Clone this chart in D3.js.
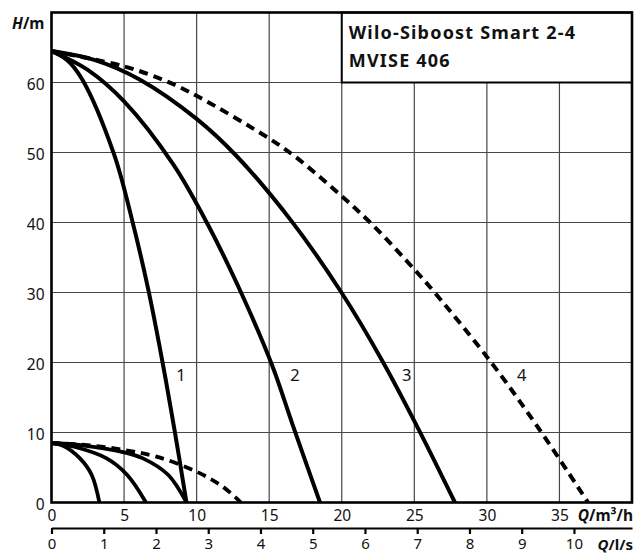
<!DOCTYPE html>
<html>
<head>
<meta charset="utf-8">
<script src="https://cdn.jsdelivr.net/npm/d3@7/dist/d3.min.js"></script>
<style>
  html, body { margin: 0; padding: 0; background: #fff; }
  svg { display: block; }
  text { font-family: "Noto Sans", "DejaVu Sans", sans-serif; fill: #111; }
</style>
</head>
<body>
<svg id="chart" width="635" height="554"></svg>
<script>
// Pump curves, head H (m) against flow Q (m³/h)
const curve1Q = [0, 1.05, 2.1, 4.3, 5.5, 6.67, 7.6, 8.45, 9.3];
const curve1H = [64.5, 63.25, 60.5, 49.8, 40.8, 30.4, 20.6, 10.7, 0];

const curve2Q = [0, 2.5, 5, 8.39, 10.8, 13.17, 15.2, 16.6, 18.5];
const curve2H = [64.5, 61.8, 57.3, 48.3, 39.6, 29.5, 19.6, 11.2, 0];

const curve3Q = [0, 3, 6.1, 10, 12.75, 16.54, 19.98, 22.75, 25.26, 27.8];
const curve3H = [64.5, 63.2, 60.4, 54.8, 49.5, 40.2, 30, 20.4, 10.6, 0];

const curve4Q = [0, 5, 7.9, 10, 15, 16.8, 19.87, 22.2, 25, 26.4, 30.23, 33.6, 36.97];
const curve4H = [64.5, 62.3, 60.2, 58.1, 52.0, 49.4, 44.0, 39.5, 33.3, 30.0, 20.2, 10.5, 0];

// Low-head family
const lowAQ = [0, 0.8, 1.96, 2.77, 3.3];
const lowAH = [8.5, 8.1, 6.3, 3.93, 0];
const lowBQ = [0, 1.5, 3.8, 5.22, 6.51];
const lowBH = [8.5, 8.0, 6.3, 3.93, 0];
const lowCQ = [0, 2, 5, 6.3, 8.05, 9.3];
const lowCH = [8.5, 8.2, 7.17, 6.3, 3.93, 0];
const lowDQ = [0, 2.5, 5, 7.24, 10, 11.8, 13.05];
const lowDH = [8.5, 8.2, 7.5, 6.55, 4.4, 2.26, 0];

// Curve numbers and where they sit (Q, H)
const curveLabels = ["1", "2", "3", "4"];
const curveLabelQ = [8.92, 16.77, 24.48, 32.4];
const curveLabelH = [17.4, 17.4, 17.4, 17.4];

// Axis ticks
const qTicks = [0, 5, 10, 15, 20, 25, 30, 35];
const hTicks = [0, 10, 20, 30, 40, 50, 60];
const lsTicks = [0, 1, 2, 3, 4, 5, 6, 7, 8, 9, 10];
const gridQ = [5, 10, 15, 20, 25, 30, 35];
const gridH = [10, 20, 30, 40, 50, 60];

const titleLines = ["Wilo-Siboost Smart 2-4", "MVISE 406"];

const svg = d3.select("#chart");

const x = d3.scaleLinear().domain([0, 40]).range([51.5, 632]);
const y = d3.scaleLinear().domain([0, 70]).range([502.5, 12.5]);
const xls = d3.scaleLinear().domain([0, 40 / 3.6]).range([51.5, 632]);

// clip
svg.append("defs").append("clipPath").attr("id", "plotClip")
  .append("rect")
  .attr("x", x(0)).attr("y", y(70))
  .attr("width", x(40) - x(0)).attr("height", y(0) - y(70));

// grid
const grid = svg.append("g").attr("stroke", "#474747").attr("stroke-width", 1.2);
grid.selectAll("line.v").data(gridQ).join("line")
  .attr("x1", d => x(d)).attr("x2", d => x(d))
  .attr("y1", y(70)).attr("y2", y(0));
grid.selectAll("line.h").data(gridH).join("line")
  .attr("x1", x(0)).attr("x2", x(40))
  .attr("y1", d => y(d)).attr("y2", d => y(d));

// curves
const line = d3.line().x(d => x(d[0])).y(d => y(d[1])).curve(d3.curveCatmullRom.alpha(0.5));
const zip = (qs, hs) => qs.map((q, i) => [q, hs[i]]);

const curves = [
  { pts: zip(curve1Q, curve1H), dash: null, w: 4 },
  { pts: zip(curve2Q, curve2H), dash: null, w: 4 },
  { pts: zip(curve3Q, curve3H), dash: null, w: 4 },
  { pts: zip(curve4Q, curve4H), dash: "9,6", w: 4 },
  { pts: zip(lowAQ, lowAH), dash: null, w: 3.8 },
  { pts: zip(lowBQ, lowBH), dash: null, w: 3.8 },
  { pts: zip(lowCQ, lowCH), dash: null, w: 3.8 },
  { pts: zip(lowDQ, lowDH), dash: "9,6", w: 3.8 }
];

svg.append("g").attr("clip-path", "url(#plotClip)")
  .selectAll("path").data(curves).join("path")
  .attr("d", d => line(d.pts))
  .attr("fill", "none")
  .attr("stroke", "#000")
  .attr("stroke-width", d => d.w)
  .attr("stroke-dasharray", d => d.dash);

// curve numbers
svg.append("g").selectAll("text").data(curveLabels).join("text")
  .attr("x", (d, i) => x(curveLabelQ[i]))
  .attr("y", (d, i) => y(curveLabelH[i]))
  .attr("text-anchor", "middle")
  .attr("font-size", 16.5)
  .text(d => d);

// title box
svg.append("rect")
  .attr("x", x(20)).attr("y", y(70))
  .attr("width", x(40) - x(20)).attr("height", y(60) - y(70))
  .attr("fill", "#fff").attr("stroke", "#000").attr("stroke-width", 2);
svg.append("g").selectAll("text").data(titleLines).join("text")
  .attr("x", x(20) + 7)
  .attr("y", (d, i) => 38.5 + i * 28.5)
  .attr("font-size", 18)
  .attr("font-weight", 700)
  .attr("letter-spacing", 1.2)
  .text(d => d);

// frame
svg.append("rect")
  .attr("x", x(0)).attr("y", y(70))
  .attr("width", x(40) - x(0)).attr("height", y(0) - y(70))
  .attr("fill", "none").attr("stroke", "#000").attr("stroke-width", 2.6);

// H axis labels
const yAxis = svg.append("g").attr("transform", `translate(${x(0)},0)`)
  .call(d3.axisLeft(y).tickValues(hTicks).tickSize(0).tickPadding(7));
yAxis.select(".domain").remove();
yAxis.selectAll("text").attr("font-size", 15.5).attr("font-family", null)
  .attr("fill", "#111").attr("dy", "0.45em");

// Q (m³/h) labels
const xAxis = svg.append("g").attr("transform", `translate(0,${y(0)})`)
  .call(d3.axisBottom(x).tickValues(qTicks).tickSize(0).tickPadding(7));
xAxis.select(".domain").remove();
xAxis.selectAll("text").attr("font-size", 15.5).attr("font-family", null).attr("fill", "#111");

// Q (l/s) secondary axis
const lsAxis = svg.append("g").attr("transform", "translate(0,528)")
  .call(d3.axisBottom(xls).tickValues(lsTicks).tickSize(6).tickSizeOuter(0).tickPadding(4));
lsAxis.select(".domain").attr("stroke", "#000").attr("stroke-width", 2.2);
lsAxis.selectAll(".tick line").attr("stroke", "#000").attr("stroke-width", 2.2);
lsAxis.selectAll("text").attr("font-size", 15).attr("font-family", null).attr("fill", "#111");

// unit labels
const hLab = svg.append("text").attr("x", 12).attr("y", 29)
  .attr("font-size", 15.5).attr("font-weight", 700);
hLab.append("tspan").attr("font-style", "italic").text("H");
hLab.append("tspan").text("/m");

const qLab = svg.append("text").attr("x", 633).attr("y", 521)
  .attr("text-anchor", "end").attr("font-size", 15.5).attr("font-weight", 700);
qLab.append("tspan").attr("font-style", "italic").text("Q");
qLab.append("tspan").text("/m³/h");

const lsLab = svg.append("text").attr("x", 633).attr("y", 549.5)
  .attr("text-anchor", "end").attr("font-size", 15).attr("font-weight", 700);
lsLab.append("tspan").attr("font-style", "italic").text("Q");
lsLab.append("tspan").text("/l/s");
</script>
</body>
</html>
